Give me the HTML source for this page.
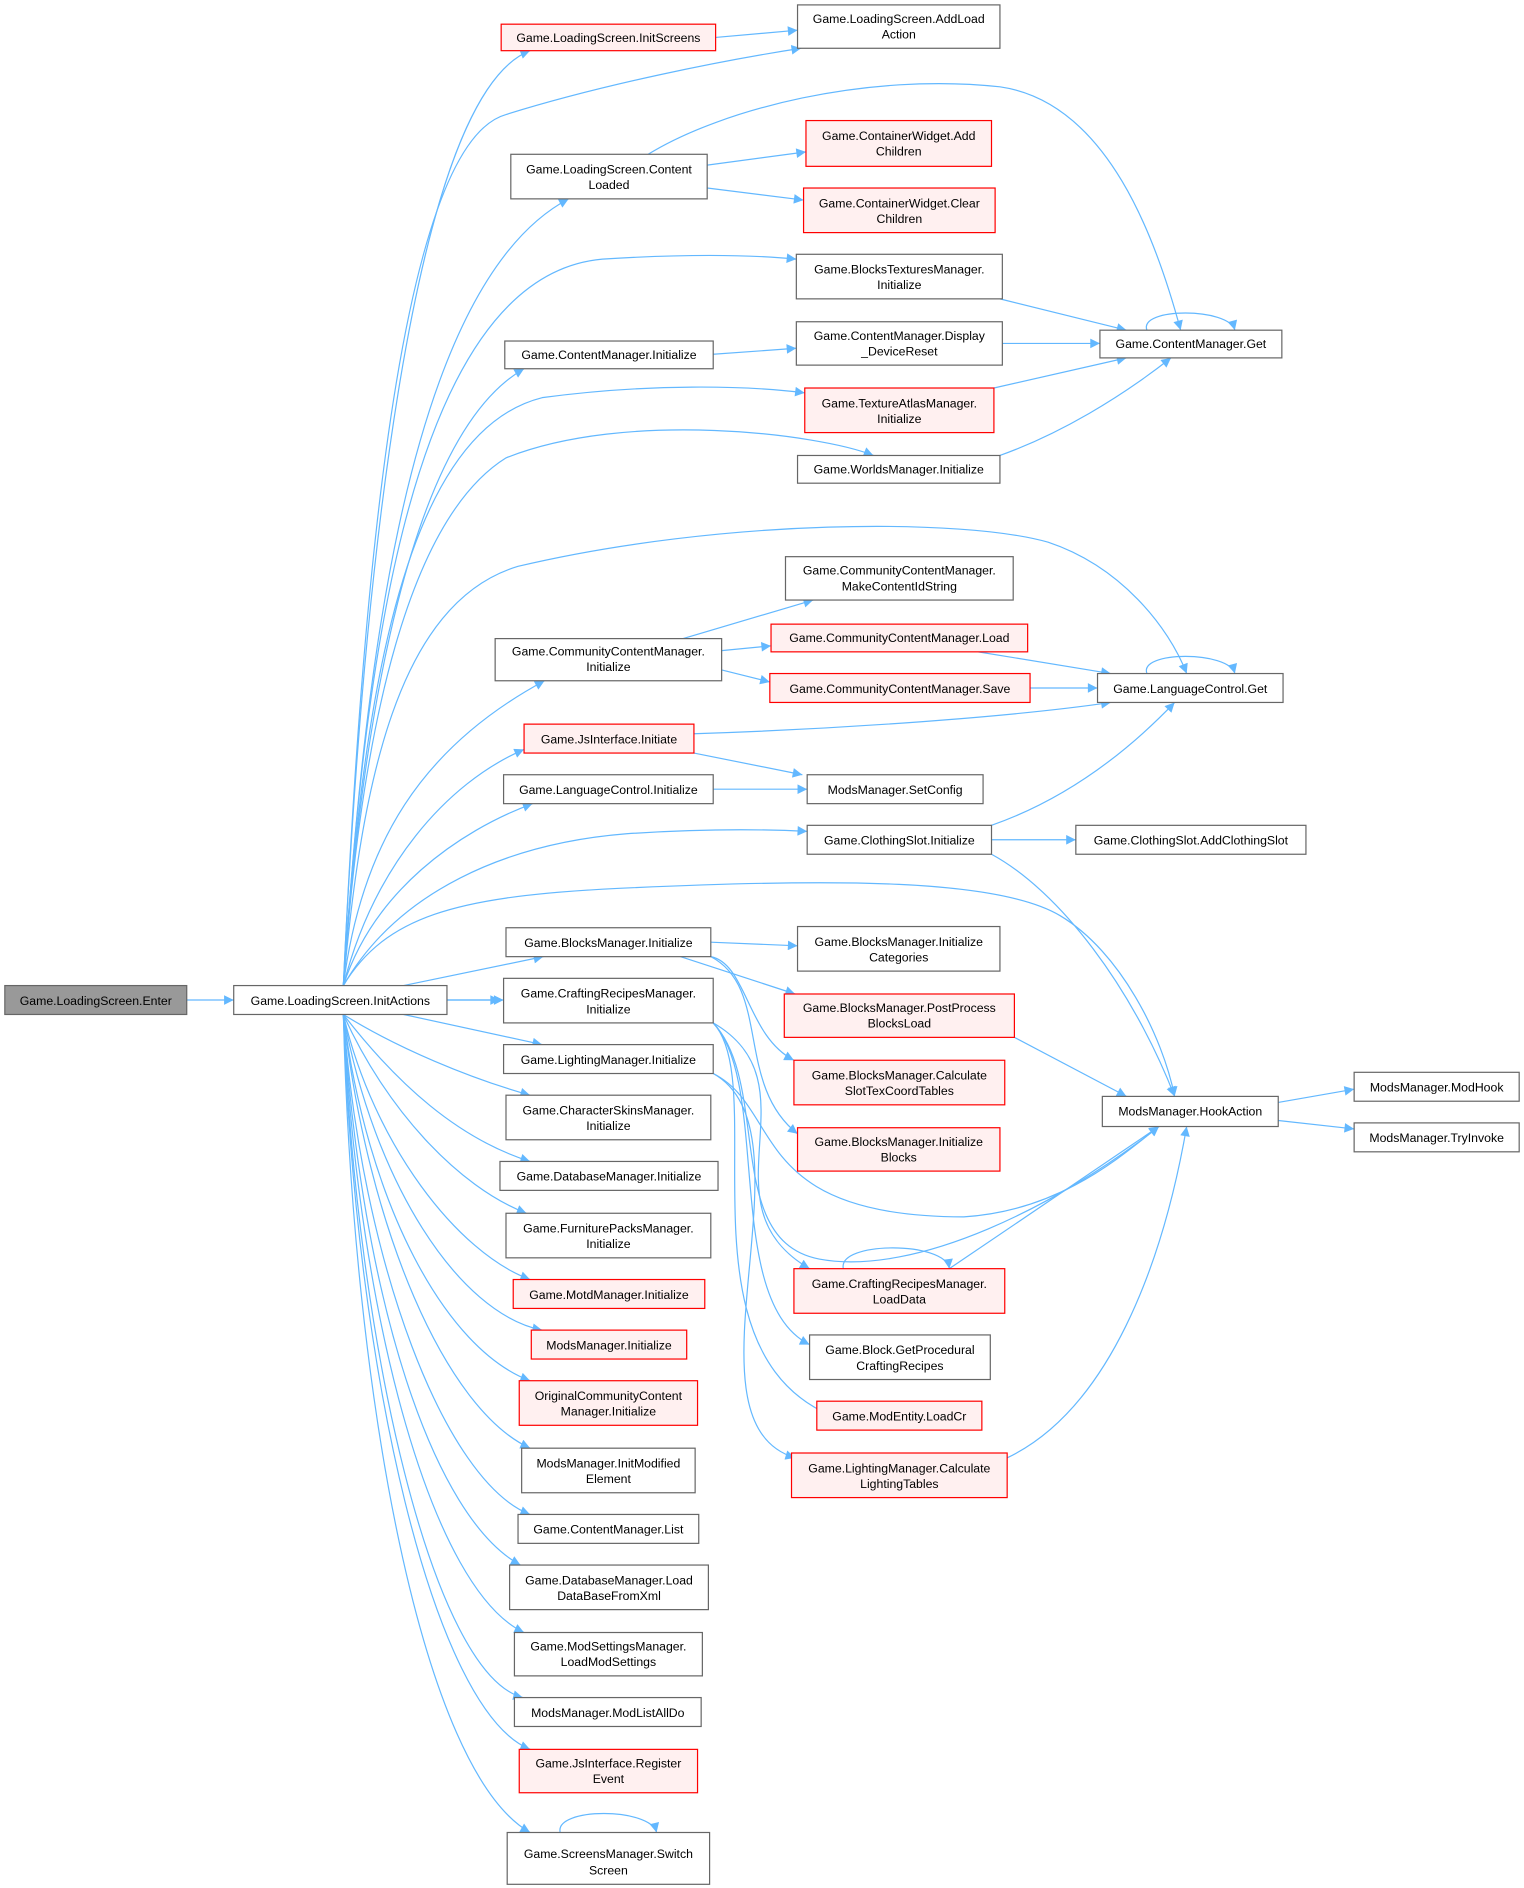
<!DOCTYPE html>
<html><head><meta charset="utf-8"><style>
html,body{margin:0;padding:0;background:#fff}
svg{display:block}
text{font-family:"Liberation Sans",sans-serif;font-size:10.2px;fill:#000;text-anchor:middle}
.n{fill:#fff;stroke:#666;stroke-width:1}
.r{fill:#fff0f0;stroke:#f00;stroke-width:1}
.g{fill:#999;stroke:#666;stroke-width:1}
.e{fill:none;stroke:#63b8ff;stroke-width:1}
</style></head><body>
<svg width="1524" height="1888" viewBox="0 0 1265 1567" xmlns="http://www.w3.org/2000/svg">
<defs><marker id="a" viewBox="0 0 10 10" refX="10" refY="5" markerWidth="10" markerHeight="8" markerUnits="userSpaceOnUse" orient="auto"><path d="M0,0L10,5L0,10z" fill="#63b8ff"/></marker></defs>
<g marker-end="url(#a)">
<path class="e" d="M155,830L194,830"/>
<path class="e" d="M371,830L415,830"/>
<path class="e" d="M285,818C300,500 340,80 440,42"/>
<path class="e" d="M285,818C300,500 330,120 420,95C500,70 600,50 665,40"/>
<path class="e" d="M285,818C300,600 330,240 472,165"/>
<path class="e" d="M285,818C300,600 330,230 500,215C580,210 630,212 661,215"/>
<path class="e" d="M285,818C300,600 340,360 435,306"/>
<path class="e" d="M285,818C300,600 330,360 450,330C540,318 620,320 668,326"/>
<path class="e" d="M285,818C300,600 340,430 420,380C520,340 680,360 725,378"/>
<path class="e" d="M285,818C300,650 330,500 430,470C600,430 800,430 870,450C930,470 970,520 985,559"/>
<path class="e" d="M285,818C300,700 350,620 452,565"/>
<path class="e" d="M285,818C310,720 370,650 435,622"/>
<path class="e" d="M285,818C310,740 380,690 442,667"/>
<path class="e" d="M285,818C330,740 420,700 520,692C580,688 630,688 670,690"/>
<path class="e" d="M285,818C320,760 380,745 500,738C700,728 830,730 880,760C930,790 965,860 975,910"/>
<path class="e" d="M335,818L451,794"/>
<path class="e" d="M371,830L418,830"/>
<path class="e" d="M335,842L450,867"/>
<path class="e" d="M285,842C330,870 390,895 440,909"/>
<path class="e" d="M285,842C330,900 380,945 440,964"/>
<path class="e" d="M285,842C320,920 380,985 437,1007"/>
<path class="e" d="M285,842C310,950 380,1040 440,1062"/>
<path class="e" d="M285,842C310,980 380,1090 450,1104"/>
<path class="e" d="M285,842C305,1000 370,1120 440,1146"/>
<path class="e" d="M285,842C305,1020 370,1170 440,1202"/>
<path class="e" d="M285,842C300,1050 370,1230 440,1257"/>
<path class="e" d="M285,842C300,1080 360,1260 432,1299"/>
<path class="e" d="M285,842C298,1100 360,1320 435,1355"/>
<path class="e" d="M285,842C296,1120 360,1390 434,1409"/>
<path class="e" d="M285,842C295,1140 360,1420 440,1452"/>
<path class="e" d="M285,842C293,1160 350,1470 440,1521"/>
<path class="e" d="M594,31L662,25"/>
<path class="e" d="M587,137L669,126"/>
<path class="e" d="M587,156L667,166"/>
<path class="e" d="M538,128C600,90 720,60 830,72C920,85 960,200 980,274"/>
<path class="e" d="M830,248L935,274"/>
<path class="e" d="M832,285L913,285"/>
<path class="e" d="M825,322L935,297"/>
<path class="e" d="M830,378C880,360 930,330 972,297"/>
<path class="e" d="M952,274C945,255 1020,255 1025,274"/>
<path class="e" d="M592,294L661,289"/>
<path class="e" d="M567,530L675,498"/>
<path class="e" d="M599,540L640,536"/>
<path class="e" d="M599,556L639,566"/>
<path class="e" d="M812,541L922,559"/>
<path class="e" d="M855,571L911,571"/>
<path class="e" d="M952,559C945,540 1020,540 1025,559"/>
<path class="e" d="M576,609C700,605 840,595 922,583"/>
<path class="e" d="M576,625L666,643"/>
<path class="e" d="M592,655L670,655"/>
<path class="e" d="M823,685C880,665 930,630 975,583"/>
<path class="e" d="M823,697L893,697"/>
<path class="e" d="M823,709C880,740 940,820 975,910"/>
<path class="e" d="M590,782L662,785"/>
<path class="e" d="M565,794L660,825"/>
<path class="e" d="M590,794C620,800 620,860 659,880"/>
<path class="e" d="M590,794C640,820 610,900 662,941"/>
<path class="e" d="M842,861L935,910"/>
<path class="e" d="M592,849C680,900 580,1000 672,1053"/>
<path class="e" d="M592,849C640,900 600,1080 672,1116"/>
<path class="e" d="M592,849C640,900 560,1120 690,1175"/>
<path class="e" d="M592,849C640,900 600,1030 680,1045C760,1060 880,1000 962,935"/>
<path class="e" d="M592,891C680,940 560,1180 660,1210"/>
<path class="e" d="M592,891C650,920 620,1010 800,1010C880,1005 930,960 962,935"/>
<path class="e" d="M788,1053L962,935"/>
<path class="e" d="M700,1053C695,1030 785,1030 788,1053"/>
<path class="e" d="M836,1210C920,1170 965,1050 985,935"/>
<path class="e" d="M1061,915L1124,904"/>
<path class="e" d="M1061,930L1124,937"/>
<path class="e" d="M465,1521C460,1500 540,1500 545,1521"/>
</g>
<rect class="g" x="4" y="818" width="151" height="24"/><text x="79.5" y="834">Game.LoadingScreen.Enter</text>
<rect class="n" x="194" y="818" width="177" height="24"/><text x="282.5" y="834">Game.LoadingScreen.InitActions</text>
<rect class="r" x="416" y="20" width="178" height="22"/><text x="505" y="35">Game.LoadingScreen.InitScreens</text>
<rect class="n" x="662" y="4" width="168" height="36"/><text x="746" y="19">Game.LoadingScreen.AddLoad</text><text x="746" y="32">Action</text>
<rect class="n" x="424" y="128" width="163" height="37"/><text x="505.5" y="144">Game.LoadingScreen.Content</text><text x="505.5" y="157">Loaded</text>
<rect class="r" x="669" y="100" width="154" height="38"/><text x="746" y="116">Game.ContainerWidget.Add</text><text x="746" y="129">Children</text>
<rect class="r" x="667" y="156" width="159" height="37"/><text x="746.5" y="172">Game.ContainerWidget.Clear</text><text x="746.5" y="185">Children</text>
<rect class="n" x="661" y="211" width="171" height="37"/><text x="746.5" y="227">Game.BlocksTexturesManager.</text><text x="746.5" y="240">Initialize</text>
<rect class="n" x="419" y="283" width="173" height="23"/><text x="505.5" y="298">Game.ContentManager.Initialize</text>
<rect class="n" x="661" y="267" width="171" height="36"/><text x="746.5" y="282">Game.ContentManager.Display</text><text x="746.5" y="295">_DeviceReset</text>
<rect class="n" x="913" y="274" width="151" height="23"/><text x="988.5" y="289">Game.ContentManager.Get</text>
<rect class="r" x="668" y="322" width="157" height="37"/><text x="746.5" y="338">Game.TextureAtlasManager.</text><text x="746.5" y="351">Initialize</text>
<rect class="n" x="662" y="378" width="168" height="23"/><text x="746" y="393">Game.WorldsManager.Initialize</text>
<rect class="n" x="652" y="462" width="189" height="36"/><text x="746.5" y="477">Game.CommunityContentManager.</text><text x="746.5" y="490">MakeContentIdString</text>
<rect class="n" x="411" y="530" width="188" height="35"/><text x="505" y="544">Game.CommunityContentManager.</text><text x="505" y="557">Initialize</text>
<rect class="r" x="640" y="518" width="213" height="23"/><text x="746.5" y="533">Game.CommunityContentManager.Load</text>
<rect class="r" x="639" y="559" width="216" height="24"/><text x="747" y="575">Game.CommunityContentManager.Save</text>
<rect class="n" x="911" y="559" width="154" height="24"/><text x="988" y="575">Game.LanguageControl.Get</text>
<rect class="r" x="435" y="601" width="141" height="24"/><text x="505.5" y="617">Game.JsInterface.Initiate</text>
<rect class="n" x="418" y="643" width="174" height="24"/><text x="505" y="659">Game.LanguageControl.Initialize</text>
<rect class="n" x="670" y="643" width="146" height="24"/><text x="743" y="659">ModsManager.SetConfig</text>
<rect class="n" x="670" y="685" width="153" height="24"/><text x="746.5" y="701">Game.ClothingSlot.Initialize</text>
<rect class="n" x="893" y="685" width="191" height="24"/><text x="988.5" y="701">Game.ClothingSlot.AddClothingSlot</text>
<rect class="n" x="420" y="770" width="170" height="24"/><text x="505" y="786">Game.BlocksManager.Initialize</text>
<rect class="n" x="662" y="769" width="168" height="37"/><text x="746" y="785">Game.BlocksManager.Initialize</text><text x="746" y="798">Categories</text>
<rect class="n" x="418" y="812" width="174" height="37"/><text x="505" y="828">Game.CraftingRecipesManager.</text><text x="505" y="841">Initialize</text>
<rect class="r" x="651" y="825" width="191" height="36"/><text x="746.5" y="840">Game.BlocksManager.PostProcess</text><text x="746.5" y="853">BlocksLoad</text>
<rect class="n" x="418" y="867" width="174" height="24"/><text x="505" y="883">Game.LightingManager.Initialize</text>
<rect class="r" x="659" y="880" width="175" height="37"/><text x="746.5" y="896">Game.BlocksManager.Calculate</text><text x="746.5" y="909">SlotTexCoordTables</text>
<rect class="n" x="420" y="909" width="170" height="37"/><text x="505" y="925">Game.CharacterSkinsManager.</text><text x="505" y="938">Initialize</text>
<rect class="r" x="662" y="936" width="168" height="36"/><text x="746" y="951">Game.BlocksManager.Initialize</text><text x="746" y="964">Blocks</text>
<rect class="n" x="915" y="910" width="146" height="25"/><text x="988" y="926">ModsManager.HookAction</text>
<rect class="n" x="1124" y="890" width="137" height="24"/><text x="1192.5" y="906">ModsManager.ModHook</text>
<rect class="n" x="1124" y="932" width="137" height="24"/><text x="1192.5" y="948">ModsManager.TryInvoke</text>
<rect class="n" x="415" y="964" width="181" height="24"/><text x="505.5" y="980">Game.DatabaseManager.Initialize</text>
<rect class="n" x="420" y="1007" width="170" height="37"/><text x="505" y="1023">Game.FurniturePacksManager.</text><text x="505" y="1036">Initialize</text>
<rect class="r" x="426" y="1062" width="159" height="24"/><text x="505.5" y="1078">Game.MotdManager.Initialize</text>
<rect class="r" x="659" y="1053" width="175" height="37"/><text x="746.5" y="1069">Game.CraftingRecipesManager.</text><text x="746.5" y="1082">LoadData</text>
<rect class="r" x="441" y="1104" width="129" height="24"/><text x="505.5" y="1120">ModsManager.Initialize</text>
<rect class="n" x="672" y="1108" width="150" height="37"/><text x="747" y="1124">Game.Block.GetProcedural</text><text x="747" y="1137">CraftingRecipes</text>
<rect class="r" x="431" y="1146" width="148" height="37"/><text x="505" y="1162">OriginalCommunityContent</text><text x="505" y="1175">Manager.Initialize</text>
<rect class="r" x="678" y="1163" width="137" height="24"/><text x="746.5" y="1179">Game.ModEntity.LoadCr</text>
<rect class="n" x="433" y="1202" width="144" height="37"/><text x="505" y="1218">ModsManager.InitModified</text><text x="505" y="1231">Element</text>
<rect class="r" x="657" y="1206" width="179" height="37"/><text x="746.5" y="1222">Game.LightingManager.Calculate</text><text x="746.5" y="1235">LightingTables</text>
<rect class="n" x="430" y="1257" width="150" height="24"/><text x="505" y="1273">Game.ContentManager.List</text>
<rect class="n" x="423" y="1299" width="165" height="37"/><text x="505.5" y="1315">Game.DatabaseManager.Load</text><text x="505.5" y="1328">DataBaseFromXml</text>
<rect class="n" x="427" y="1355" width="156" height="36"/><text x="505" y="1370">Game.ModSettingsManager.</text><text x="505" y="1383">LoadModSettings</text>
<rect class="n" x="427" y="1409" width="155" height="24"/><text x="504.5" y="1425">ModsManager.ModListAllDo</text>
<rect class="r" x="431" y="1452" width="148" height="36"/><text x="505" y="1467">Game.JsInterface.Register</text><text x="505" y="1480">Event</text>
<rect class="n" x="421" y="1521" width="168" height="43"/><text x="505" y="1542">Game.ScreensManager.Switch</text><text x="505" y="1556">Screen</text>
</svg>
</body></html>
